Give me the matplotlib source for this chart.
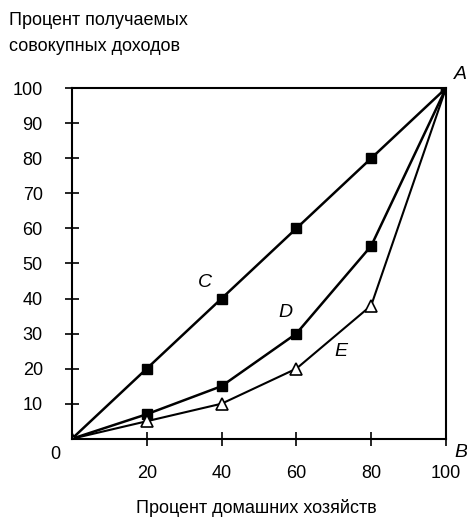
import matplotlib
matplotlib.use('Agg')
import matplotlib.pyplot as plt

plt.rcParams['font.family'] = ['Liberation Sans', 'DejaVu Sans']

households = [0, 20, 40, 60, 80, 100]
income_c = [0, 20, 40, 60, 80, 100]
income_d = [0, 7, 15, 30, 55, 100]
income_e = [0, 5, 10, 20, 38, 100]
x_ticks = [20, 40, 60, 80, 100]
y_ticks = [10, 20, 30, 40, 50, 60, 70, 80, 90, 100]

fig = plt.figure(figsize=(4.67, 5.28), dpi=100)
ax = fig.add_axes([0.154, 0.169, 0.801, 0.664])

ax.plot(households, income_c, color='black', lw=1.8)
ax.plot(households[1:], income_c[1:], 's', color='black', ms=7)
ax.plot(households, income_d, color='black', lw=1.8)
ax.plot(households[1:], income_d[1:], 's', color='black', ms=7)
ax.plot(households, income_e, color='black', lw=1.5)
ax.plot(households[:-1], income_e[:-1], '^', mfc='white', mec='black', ms=8, mew=1.2)

ax.text(35.5, 44.5, 'C', fontsize=14, style='italic', ha='center', va='center')
ax.text(57, 36, 'D', fontsize=14, style='italic', ha='center', va='center')
ax.text(72, 25, 'E', fontsize=14, style='italic', ha='center', va='center')
ax.text(104, 104, 'A', fontsize=14, style='italic', ha='center', va='center', clip_on=False)
ax.text(104, -4, 'B', fontsize=14, style='italic', ha='center', va='center', clip_on=False)

ax.set_xlim(0, 100)
ax.set_ylim(0, 100)
ax.set_xticks(x_ticks)
ax.set_yticks(y_ticks)
ax.tick_params(direction='inout', length=10, width=1.2, labelsize=13)
ax.tick_params(axis='y', pad=16)
ax.tick_params(axis='x', pad=14)
for s in ax.spines.values():
    s.set_linewidth(1.5)
ax.text(-3, -4.5, '0', fontsize=13, ha='right', va='center', clip_on=False)

fig.text(0.02, 0.962, 'Процент получаемых', fontsize=13, ha='left', va='center')
fig.text(0.02, 0.912, 'совокупных доходов', fontsize=13, ha='left', va='center')
fig.text(0.55, 0.02, 'Процент домашних хозяйств', fontsize=13, ha='center', va='bottom')

fig.savefig('out.png', dpi=100)
